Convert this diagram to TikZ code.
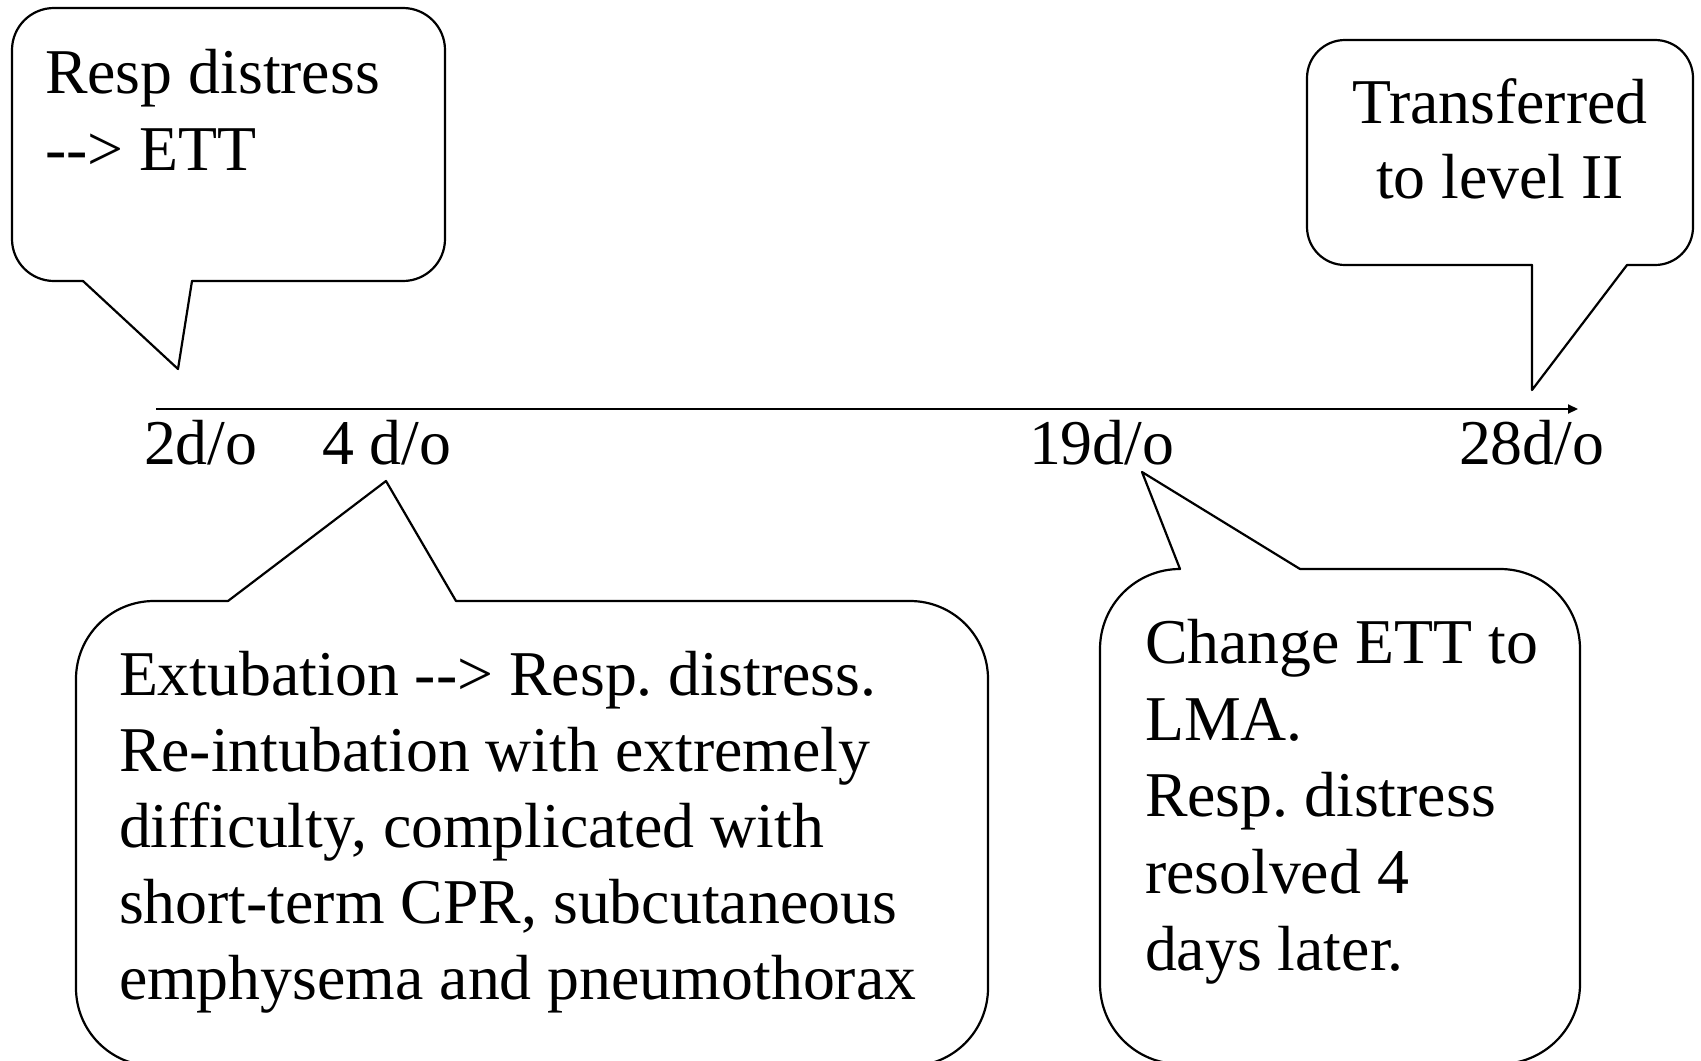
\documentclass[tikz,border=0pt]{standalone}
\usepackage{fontspec}
\usetikzlibrary{arrows.meta}
\newfontfamily\tnr{Liberation Serif}
\frenchspacing
\begin{document}
\begin{tikzpicture}[x=0.5pt,y=-0.5pt,
  outline/.style={draw=black,line width=1.1pt,line cap=round,line join=round},
  txt/.style={inner sep=0pt,outer sep=0pt,font=\tnr\fontsize{31.9pt}{38pt}\selectfont},
  lft/.style={txt,anchor=base west},
  ctr/.style={txt,anchor=base}]
\useasboundingbox (0,0) rectangle (1701,1060);
\clip (0,0) rectangle (1701,1060);

% timeline
\coordinate (tstart) at (156,409);
\coordinate (tend) at (1578,409);
\draw[line width=1pt,-{Triangle[length=5pt,width=4.5pt]}] (tstart) -- (tend);

% day labels
\node[lft] (d2) at (144,464) {2d/o};
\node[lft] (d4) at (322,464) {4 d/o};
\node[lft] (d19) at (1029,464) {19d/o};
\node[lft] (d28) at (1459,464) {28d/o};

% top-left callout
\draw[outline,rounded corners=21pt] (192,281) -- (445,281) -- (445,8) -- (12,8) -- (12,281) -- (83,281);
\coordinate (tltip) at (178,369);
\draw[outline] (83,281) -- (tltip) -- (192,281);
\node[lft] (tl1) at (45,93) {Resp distress};
\node[lft] (tl2) at (45,170) {-\kern0pt-> ETT};

% top-right callout
\draw[outline,rounded corners=19pt] (1627,265) -- (1693,265) -- (1693,40) -- (1307,40) -- (1307,265) -- (1532,265);
\coordinate (trtip) at (1532,390);
\draw[outline] (1532,265) -- (trtip) -- (1627,265);
\node[ctr] (tr1) at (1500,123) {Transferred};
\node[ctr] (tr2) at (1500,198) {to level II};

% bottom-left callout
\draw[outline,rounded corners=39pt] (456,601) -- (988,601) -- (988,1066) -- (76,1066) -- (76,601) -- (228,601);
\coordinate (bltip) at (386,481);
\draw[outline] (228,601) -- (bltip) -- (456,601);
\node[lft] (bl1) at (119,695) {Extubation -\kern0pt-> Resp. distress.};
\node[lft] (bl2) at (119,771) {Re-intubation with extremely};
\node[lft] (bl3) at (119,847) {difficulty, complicated with};
\node[lft] (bl4) at (119,923) {short-term CPR, subcutaneous};
\node[lft] (bl5) at (119,999) {emphysema and pneumothorax};

% bottom-right callout
\draw[outline,rounded corners=40pt] (1300,569) -- (1580,569) -- (1580,1064) -- (1100,1064) -- (1100,569) -- (1180,569);
\coordinate (brtip) at (1142,472);
\draw[outline] (1180,569) -- (brtip) -- (1300,569);
\node[lft] (br1) at (1145,663) {Change ETT to};
\node[lft] (br2) at (1145,740) {LMA.};
\node[lft] (br3) at (1145,816) {Resp. distress};
\node[lft] (br4) at (1145,893) {resolved 4};
\node[lft] (br5) at (1145,970) {days later.};
\end{tikzpicture}
\end{document}
